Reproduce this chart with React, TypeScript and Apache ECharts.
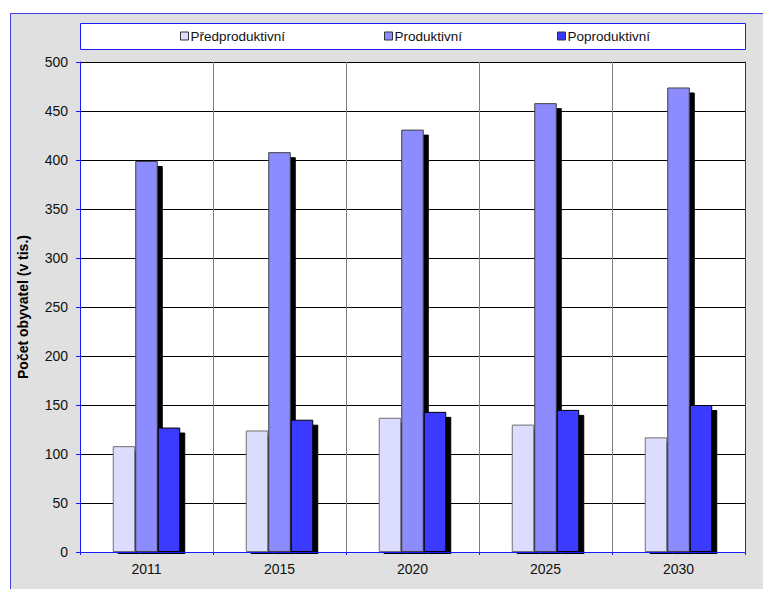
import React, { useEffect, useRef } from "react";
import * as echarts from "echarts";

// Population by age group (thousands)
const years = ["2011", "2015", "2020", "2025", "2030"];
const seriesNames = ["Předproduktivní", "Produktivní", "Poproduktivní"];
const preProductive = [108, 124, 137, 130, 117];
const productive = [399, 408, 431, 458, 474];
const postProductive = [127, 135, 143, 145, 150];
const yMin = 0;
const yMax = 500;
const yStep = 50;
const yAxisTitle = "Počet obyvatel (v tis.)";

const FONT = "'Liberation Sans', Arial, Helvetica, sans-serif";
const BLUE = "#1a1aff";
const FILLS = ["#dcdcff", "#8c8cff", "#3a3aff"];
const EDGES = ["#707070", "#404040", "#000000"];
const LEGEND_LEFT = [180, 384, 557];

export default function App() {
  const ref = useRef<HTMLDivElement>(null);

  useEffect(() => {
    if (!ref.current) return;
    const chart = echarts.init(ref.current, undefined, { renderer: "svg" });
    const values = [preProductive, productive, postProductive];

    const catAxisBase = { type: "category" as const, data: years };
    const valAxisBase = { type: "value" as const, min: yMin, max: yMax, interval: yStep };

    chart.setOption({
      animation: false,
      backgroundColor: "#ffffff",
      graphic: [
        {
          type: "rect",
          z: -10,
          shape: { x: 10.5, y: 13.5, width: 800, height: 700 },
          style: { fill: "#e0e0e0", stroke: "#3f3fe0", lineWidth: 1 },
        },
        {
          type: "rect",
          z: 1,
          shape: { x: 80.5, y: 23.5, width: 665, height: 26 },
          style: { fill: "#ffffff", stroke: BLUE, lineWidth: 1 },
        },
        {
          // trims the bar drop shadows just under the category axis
          type: "rect",
          z: 5,
          shape: { x: 81, y: 554, width: 670, height: 6 },
          style: { fill: "#e0e0e0" },
        },
      ],
      legend: seriesNames.map((name, i) => ({
        data: [name],
        left: LEGEND_LEFT[i],
        top: 29,
        padding: 0,
        icon: "rect",
        itemWidth: 8,
        itemHeight: 8,
        itemStyle: {
          borderColor: "#333333",
          borderWidth: 1,
          shadowColor: "rgba(0,0,0,0)",
          shadowOffsetX: 0,
          shadowOffsetY: 0,
        },
        textStyle: { fontFamily: FONT, fontSize: 13.5, color: "#111111", padding: [0, 0, 0, -3] },
      })),
      grid: {
        left: 80,
        top: 62,
        width: 665,
        height: 490,
        show: true,
        backgroundColor: "#ffffff",
        borderWidth: 0,
      },
      xAxis: [
        {
          ...catAxisBase,
          position: "bottom",
          z: 2,
          axisLine: { show: false },
          axisTick: { show: false },
          axisLabel: { margin: 10, fontFamily: FONT, fontSize: 14, color: "#111111" },
          splitLine: { show: true, lineStyle: { color: "#808080", width: 1 } },
        },
        {
          ...catAxisBase,
          position: "bottom",
          z: 6,
          axisLine: { show: true, lineStyle: { color: BLUE, width: 1 } },
          axisTick: { show: true, length: 3, lineStyle: { color: BLUE } },
          axisLabel: { show: false },
          splitLine: { show: false },
        },
        {
          ...catAxisBase,
          position: "top",
          z: 6,
          axisLine: { show: true, lineStyle: { color: BLUE, width: 1 } },
          axisTick: { show: false },
          axisLabel: { show: false },
          splitLine: { show: false },
        },
      ],
      yAxis: [
        {
          ...valAxisBase,
          position: "left",
          z: 2,
          axisLine: { show: false },
          axisTick: { show: false },
          axisLabel: { margin: 12, fontFamily: FONT, fontSize: 14, color: "#111111" },
          splitLine: { show: true, lineStyle: { color: "#000000", width: 1 } },
          name: yAxisTitle,
          nameLocation: "middle",
          nameGap: 50,
          nameRotate: 90,
          nameTextStyle: { fontFamily: FONT, fontSize: 14, fontWeight: "bold", color: "#000000" },
        },
        {
          ...valAxisBase,
          position: "left",
          z: 6,
          axisLine: { show: true, lineStyle: { color: BLUE, width: 1 } },
          axisTick: { show: true, length: 4, lineStyle: { color: BLUE } },
          axisLabel: { show: false },
          splitLine: { show: false },
        },
        {
          ...valAxisBase,
          position: "right",
          z: 6,
          axisLine: { show: true, lineStyle: { color: BLUE, width: 1 } },
          axisTick: { show: false },
          axisLabel: { show: false },
          splitLine: { show: false },
        },
      ],
      series: seriesNames.map((name, i) => ({
        name,
        type: "bar",
        xAxisIndex: 0,
        yAxisIndex: 0,
        data: values[i],
        barWidth: 22.5,
        barGap: "0%",
        z: 3,
        itemStyle: {
          color: FILLS[i],
          borderColor: EDGES[i],
          borderWidth: 1,
          shadowColor: "#000000",
          shadowBlur: 0,
          shadowOffsetX: 5,
          shadowOffsetY: 5,
        },
        emphasis: { disabled: true },
      })),
    });

    return () => chart.dispose();
  }, []);

  return (
    <div
      ref={ref}
      style={{ position: "fixed", left: 0, top: 0, width: 763, height: 589 }}
    />
  );
}
